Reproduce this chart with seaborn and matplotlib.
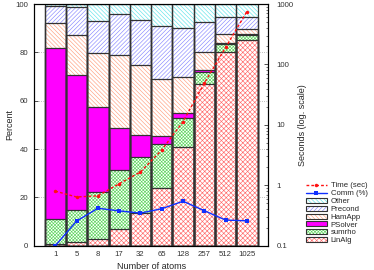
import matplotlib
matplotlib.use("Agg")
import matplotlib.pyplot as plt
from matplotlib.patches import Patch
from matplotlib.lines import Line2D
import numpy as np
import pandas as pd
import seaborn as sns

# ------------------------------------------------------------------
# Data
# ------------------------------------------------------------------
atoms = ["1", "5", "8", "17", "32", "65", "128", "257", "512", "1025"]

linalg = [0.5, 1.4, 2.6, 7.0, 13.4, 23.7, 40.7, 66.8, 80.0, 85.1]
sumrho = [10.4, 13.2, 19.5, 24.2, 23.3, 18.4, 12.3, 5.2, 3.6, 2.1]
psolver = [71.1, 55.9, 35.2, 17.6, 9.1, 3.3, 1.8, 0.7, 0.4, 0.4]
hamapp = [10.0, 16.5, 22.3, 30.1, 29.0, 23.4, 15.1, 7.3, 3.7, 1.9]
precond = [7.2, 11.9, 13.5, 17.1, 18.7, 22.1, 20.0, 12.4, 6.8, 5.0]
other = [0.8, 1.1, 6.9, 4.0, 6.5, 9.1, 10.1, 7.6, 5.5, 5.5]

time_sec = [0.80, 0.64, 0.67, 1.06, 1.66, 3.84, 11.3, 49, 191, 750]
comm_pct = [0.0, 10.2, 15.5, 14.4, 13.5, 15.3, 18.4, 14.5, 10.6, 10.3]

components = ["LinAlg", "sumrho", "PSolver", "HamApp", "Precond", "Other"]
values = [linalg, sumrho, psolver, hamapp, precond, other]
colors = ["#ff6a6a", "#5cd65c", "#ff00ff", "#ffa080", "#8888ff", "#60e4ea"]
hatches = ["x" * 7, "x" * 10, None, "\\" * 8, "/" * 8, "\\" * 8]

sns.set_style("white")
plt.rcParams["font.family"] = ["Liberation Sans", "DejaVu Sans"]
plt.rcParams["hatch.linewidth"] = 0.45
FS = 6.5
TS = 5.6

fig = plt.figure(figsize=(3.74, 2.70), dpi=100)
ax = fig.add_axes([0.091, 0.09, 0.626, 0.895])

# cumulative tops for overlay stacking
df = pd.DataFrame(dict(zip(components, values)), index=atoms)
cum = df.cumsum(axis=1)
df_cum = cum.reset_index().rename(columns={"index": "atoms"})

# draw from top layer down so each lower layer covers the one above
for comp, col, h in reversed(list(zip(components, colors, hatches))):
    if h is None:
        sns.barplot(data=df_cum, x="atoms", y=comp, ax=ax, color=col,
                    saturation=1, width=1.0, edgecolor="none", linewidth=0)
    else:
        sns.barplot(data=df_cum, x="atoms", y=comp, ax=ax, color="white",
                    saturation=1, width=1.0, hatch=h, edgecolor=col,
                    linewidth=0)
# outlines
for comp in components:
    sns.barplot(data=df_cum, x="atoms", y=comp, ax=ax, fill=False,
                width=1.0, edgecolor="#333333", linewidth=0.9)

# communication share on percent axis
line_df = pd.DataFrame({"x": np.arange(len(atoms)), "comm": comm_pct,
                        "time": time_sec})
sns.lineplot(data=line_df, x="x", y="comm", ax=ax, color="#1030ff",
             marker="s", markersize=2.5, markeredgewidth=0, linewidth=1.0)

ax.set_xlim(-1, 10)
ax.set_ylim(0, 100)
ax.set_yticks([0, 20, 40, 60, 80, 100])
ax.set_xticks(range(len(atoms)))
ax.set_xticklabels(atoms)
ax.set_xlabel("Number of atoms", fontsize=FS, labelpad=3)
ax.set_ylabel("Percent", fontsize=FS, labelpad=1)
ax.tick_params(axis="both", labelsize=TS, direction="in", length=3,
               width=0.6, pad=4, colors="#333333")
ax.yaxis.grid(True, color="#aaaaaa", linestyle=":", linewidth=0.6)
ax.set_axisbelow(True)
for sp in ax.spines.values():
    sp.set_color("black")
    sp.set_linewidth(0.8)

# time on log axis
ax2 = ax.twinx()
sns.lineplot(data=line_df, x="x", y="time", ax=ax2, color="#ff1010",
             marker="o", markersize=2.5, markeredgewidth=0, linewidth=1.0,
             linestyle=(0, (2, 1.5)))
ax2.set_yscale("log")
ax2.set_ylim(0.1, 1000)
ax2.set_xlim(-1, 10)
ax2.set_yticks([0.1, 1, 10, 100, 1000])
ax2.set_yticklabels(["0.1", "1", "10", "100", "1000"])
ax2.set_ylabel("Seconds (log. scale)", fontsize=FS, labelpad=3)
ax2.tick_params(axis="y", which="major", labelsize=TS, direction="in",
                length=3, width=0.6, pad=6, colors="#333333")
ax2.tick_params(axis="y", which="minor", direction="in", length=1.5,
                width=0.5, colors="#333333")
ax2.set_xlabel("")
for sp in ax2.spines.values():
    sp.set_color("black")
    sp.set_linewidth(0.8)

# legend: hatched patches get a coloured hatch under a dark outline
handles = [
    Line2D([0], [0], color="#ff1010", linestyle=(0, (2, 1.5)), lw=1.0,
           marker="o", markersize=2.5, markeredgewidth=0),
    Line2D([0], [0], color="#1030ff", lw=1.0, marker="s", markersize=2.5,
           markeredgewidth=0),
]
labels = ["Time (sec)", "Comm (%)"]
for comp, col, h in reversed(list(zip(components, colors, hatches))):
    if h is None:
        handles.append(Patch(facecolor=col, edgecolor="#333333", lw=0.8))
    else:
        handles.append((Patch(facecolor="white", edgecolor=col, lw=0,
                              hatch=h),
                        Patch(fill=False, edgecolor="#333333", lw=0.8)))
    labels.append(comp)
fig.legend(handles, labels, loc="upper left",
           bbox_to_anchor=(0.818, 0.325), frameon=False, fontsize=5.6,
           handlelength=2.7, handleheight=0.6, labelspacing=0.08,
           handletextpad=0.5, borderpad=0, borderaxespad=0)

fig.savefig("out.png", dpi=100)
